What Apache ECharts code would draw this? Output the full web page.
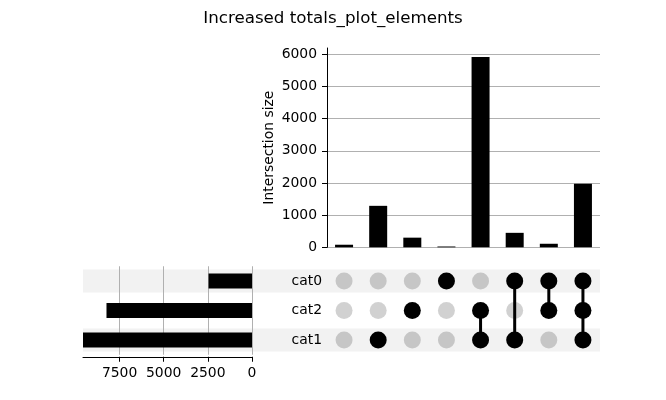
<!DOCTYPE html>
<html>
<head>
<meta charset="utf-8">
<script src="https://cdn.jsdelivr.net/npm/echarts@6/dist/echarts.min.js"></script>
<style>html,body{margin:0;padding:0;background:#fff}#c{width:666px;height:400px}</style>
</head>
<body>
<div id="c"></div>
<script>
// ---- data ----
const titleText = 'Increased totals_plot_elements';
const setNames = ['cat1', 'cat2', 'cat0'];          // bottom to top
const setTotals = [9570, 8240, 2460];
const intersectionIds = ['i0', 'i1', 'i2', 'i3', 'i4', 'i5', 'i6', 'i7'];
const intersectionSizes = [80, 1290, 300, 25, 5920, 450, 110, 1980];
const memberCat0 = [0, 0, 0, 1, 0, 1, 1, 1];
const memberCat2 = [0, 0, 1, 0, 1, 0, 1, 1];
const memberCat1 = [0, 1, 0, 0, 1, 1, 0, 1];
const sizeTicks = [0, 1000, 2000, 3000, 4000, 5000, 6000];
const totalTicks = [0, 2500, 5000, 7500];
const shadedRows = [1, 0, 1];

// ---- build ----
const membership = { cat0: memberCat0, cat2: memberCat2, cat1: memberCat1 };
const FONT = 'DejaVu Sans';
const activeDots = [], inactiveDots = [];
setNames.forEach(name => {
  membership[name].forEach((m, c) => {
    (m ? activeDots : inactiveDots).push([intersectionIds[c], name]);
  });
});
const connectorSeries = [];
intersectionIds.forEach((id, c) => {
  const rows = setNames.map((n, r) => membership[n][c] ? r : -1).filter(r => r >= 0);
  if (rows.length >= 2) {
    connectorSeries.push({
      type: 'line', xAxisIndex: 1, yAxisIndex: 1, symbol: 'none', silent: true,
      lineStyle: { color: '#000', width: 3 }, z: 3,
      data: [[id, setNames[Math.min(...rows)]], [id, setNames[Math.max(...rows)]]]
    });
  }
});
const plain = v => String(v);

const rowTop = 266.25, rowH = 88.5;
const chart = echarts.init(document.getElementById('c'), null, { renderer: 'canvas' });
chart.setOption({
  animation: false,
  backgroundColor: '#fff',
  textStyle: { fontFamily: FONT },
  title: {
    text: titleText, left: 'center', top: 5,
    textStyle: { fontFamily: FONT, fontSize: 16.7, fontWeight: 'normal', color: '#000' }
  },
  grid: [
    { left: 327, width: 273, top: 48, height: 199.3 },
    { left: 327, width: 273, top: rowTop, height: rowH },
    { left: 83, width: 169, top: rowTop, height: rowH },
    { left: 83, width: 517, top: rowTop, height: rowH }
  ],
  xAxis: [
    { gridIndex: 0, type: 'category', data: intersectionIds, axisLine: { show: false },
      axisTick: { show: false }, axisLabel: { show: false } },
    { gridIndex: 1, type: 'category', data: intersectionIds, axisLine: { show: false },
      axisTick: { show: false }, axisLabel: { show: false } },
    { gridIndex: 2, type: 'value', inverse: true, min: 0, max: setTotals[0], interval: 2500,
      offset: 2,
      axisLine: { show: true, lineStyle: { color: '#000', width: 1 } },
      axisTick: { show: true, length: 5, lineStyle: { color: '#000' }, customValues: totalTicks },
      axisLabel: { fontSize: 13.9, color: '#000', margin: 10, fontFamily: FONT,
        customValues: totalTicks, formatter: plain },
      splitLine: { show: true, lineStyle: { color: '#b0b0b0', width: 1 } } },
    { gridIndex: 3, type: 'value', min: 0, max: 1, show: false }
  ],
  yAxis: [
    { gridIndex: 0, type: 'value', min: 0, max: 6200, interval: 1000,
      name: 'Intersection size', nameLocation: 'middle', nameGap: 51, nameRotate: 90,
      nameTextStyle: { fontSize: 13.9, color: '#000', fontFamily: FONT },
      axisLine: { show: true, lineStyle: { color: '#000', width: 1 } },
      axisTick: { show: true, length: 5, lineStyle: { color: '#000' }, customValues: sizeTicks },
      axisLabel: { fontSize: 13.9, color: '#000', margin: 10, fontFamily: FONT,
        customValues: sizeTicks, formatter: plain },
      splitLine: { show: true, lineStyle: { color: '#b0b0b0', width: 1 } } },
    { gridIndex: 1, type: 'category', data: setNames, axisLine: { show: false },
      axisTick: { show: false },
      axisLabel: { fontSize: 13.9, color: '#000', margin: 5, fontFamily: FONT } },
    { gridIndex: 2, type: 'category', data: setNames, show: false },
    { gridIndex: 3, type: 'category', data: setNames, show: false }
  ],
  series: [
    { type: 'bar', xAxisIndex: 3, yAxisIndex: 3, data: shadedRows, barWidth: 23, silent: true,
      itemStyle: { color: '#f2f2f2' }, z: -1 },
    { type: 'bar', xAxisIndex: 0, yAxisIndex: 0, data: intersectionSizes, barWidth: 18,
      itemStyle: { color: '#000' } },
    { type: 'bar', xAxisIndex: 2, yAxisIndex: 2, data: setTotals, barWidth: 15,
      itemStyle: { color: '#000' } },
    ...connectorSeries,
    { type: 'scatter', xAxisIndex: 1, yAxisIndex: 1, data: inactiveDots, symbolSize: 17,
      itemStyle: { color: 'rgba(0,0,0,0.18)', opacity: 1 }, z: 2 },
    { type: 'scatter', xAxisIndex: 1, yAxisIndex: 1, data: activeDots, symbolSize: 17,
      itemStyle: { color: '#000', opacity: 1 }, z: 4 }
  ]
});
</script>
</body>
</html>
